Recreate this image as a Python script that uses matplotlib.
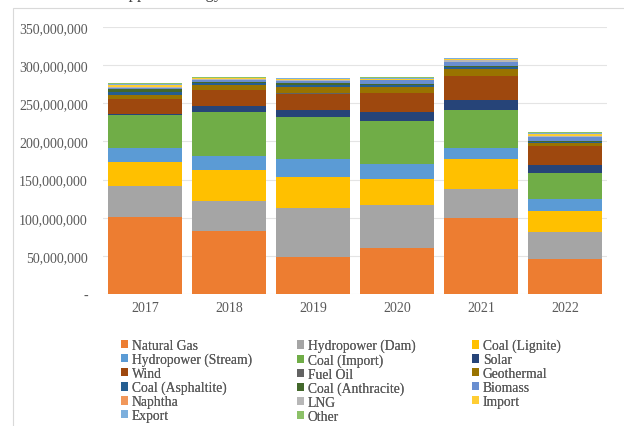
import numpy as np
import matplotlib.pyplot as plt
from matplotlib.patches import Rectangle
from matplotlib.ticker import FuncFormatter, MultipleLocator

plt.rcParams['font.family'] = ['Liberation Serif', 'DejaVu Serif']

years = ['2017', '2018', '2019', '2020', '2021', '2022']

# Supplied energy by source (millions of units per year)
natural_gas     = [100.5, 82.1, 48.1, 60.3, 99.2, 45.9]
hydro_dam       = [40.7, 40.2, 64.6, 56.3, 38.4, 35.8]
coal_lignite    = [32.2, 40.2, 41.0, 34.1, 39.3, 26.7]
hydro_stream    = [17.6, 18.4, 23.2, 19.3, 14.4, 16.1]
coal_import     = [43.5, 58.0, 54.7, 57.1, 50.2, 33.7]
solar           = [2.0, 7.6, 9.3, 11.8, 12.7, 10.9]
wind            = [18.7, 20.6, 21.9, 24.1, 31.1, 24.5]
fuel_oil        = [0.6, 0.3, 0.3, 0.3, 0.4, 0.3]
geothermal      = [5.6, 7.0, 8.9, 8.0, 9.6, 4.6]
coal_asphaltite = [3.0, 2.0, 2.5, 2.6, 1.8, 1.2]
coal_anthracite = [4.5, 1.9, 1.5, 1.5, 1.2, 0.5]
biomass         = [1.4, 2.2, 3.5, 4.7, 5.7, 5.7]
naphtha         = [0.2, 0.1, 0.1, 0.1, 0.1, 0.1]
lng             = [0.8, 0.6, 0.5, 0.5, 2.5, 1.2]
energy_import   = [2.8, 1.8, 1.6, 1.6, 1.2, 2.5]
energy_export   = [1.2, 0.8, 0.8, 1.5, 1.3, 1.7]
other           = [1.2, 0.2, 0.2, 0.2, 0.2, 0.5]

source_names = ['Natural Gas', 'Hydropower (Dam)', 'Coal (Lignite)',
                'Hydropower (Stream)', 'Coal (Import)', 'Solar', 'Wind',
                'Fuel Oil', 'Geothermal', 'Coal (Asphaltite)',
                'Coal (Anthracite)', 'Biomass', 'Naphtha', 'LNG', 'Import',
                'Export', 'Other']
source_values = [natural_gas, hydro_dam, coal_lignite, hydro_stream,
                 coal_import, solar, wind, fuel_oil, geothermal,
                 coal_asphaltite, coal_anthracite, biomass, naphtha, lng,
                 energy_import, energy_export, other]
colors = ['#ED7D31', '#A5A5A5', '#FFC000', '#5B9BD5', '#70AD47', '#264478',
          '#9E480E', '#636363', '#997300', '#255E91', '#43682B', '#698ED0',
          '#F1975A', '#B7B7B7', '#FFCD33', '#7CAFDD', '#8CC168']

W, H = 624, 427
fig = plt.figure(figsize=(W / 100, H / 100), dpi=100)
ax = fig.add_axes([103 / W, 1 - 295 / H, 504 / W, 267 / H])

# Chart frame
fig.patches.append(Rectangle((13 / W, -0.01), 1.0, 1 - 9 / H + 0.01,
                             transform=fig.transFigure, fill=False,
                             edgecolor='#D9D9D9', linewidth=0.8))

x = np.arange(len(years))
bottom = np.zeros(len(years))
handles = []
for name, vals, col in zip(source_names, source_values, colors):
    v = np.array(vals) * 1e6
    b = ax.bar(x, v, width=0.89, bottom=bottom, color=col, label=name,
               linewidth=0, zorder=3)
    handles.append(b)
    bottom += v

ax.set_xlim(-0.5, len(years) - 0.5)
ax.set_ylim(0, 350e6)
ax.yaxis.set_major_locator(MultipleLocator(50e6))
ax.yaxis.set_major_formatter(FuncFormatter(
    lambda v, p: '-' if v == 0 else f'{v:,.0f}'))
ax.grid(axis='y', color='#E4E4E4', linewidth=0.8, zorder=0)
for s in ax.spines.values():
    s.set_visible(False)
ax.tick_params(axis='both', length=0, colors='#595959', labelsize=10)
ax.tick_params(axis='y', pad=11)
ax.tick_params(axis='x', pad=5)
ax.set_xticks(x, years)

# Legend laid out in three equal-width columns, filled row by row
col_x = [121, 297, 472]
for c in range(3):
    idx = list(range(c, len(source_names), 3))
    leg = fig.legend([handles[i] for i in idx], [source_names[i] for i in idx],
                     loc='upper left', bbox_to_anchor=(col_x[c] / W, 1 - 340 / H),
                     frameon=False, fontsize=9.8, labelcolor='#595959',
                     handlelength=0.55, handleheight=0.55, handletextpad=0.25,
                     labelspacing=0.06, borderpad=0, borderaxespad=0)
    fig.add_artist(leg)

fig.text(111 / W, 1 + 2.5 / H, 'Supplied Energy', fontsize=12, color='#404040',
         va='baseline', ha='left')

fig.savefig('out.png', dpi=100)
